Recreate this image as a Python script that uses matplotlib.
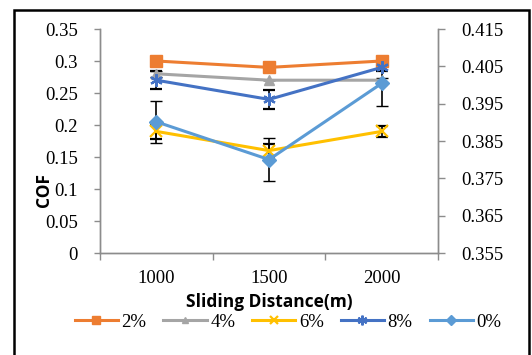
import matplotlib
matplotlib.use("Agg")
import matplotlib.pyplot as plt
from matplotlib.patches import Rectangle
from matplotlib.lines import Line2D

# data
distancias = ["1000", "1500", "2000"]
series_nomes = ["2%", "4%", "6%", "8%", "0%"]
cof_2 = [0.300, 0.290, 0.300]
cof_4 = [0.280, 0.270, 0.270]
cof_6 = [0.190, 0.160, 0.190]
cof_8 = [0.270, 0.240, 0.290]
cof_0 = [0.205, 0.146, 0.265]
err_2 = [0.0, 0.0, 0.0]
err_4 = [0.005, 0.0, 0.004]
err_6 = [0.012, 0.011, 0.009]
err_8 = [0.014, 0.015, 0.006]
err_0 = [0.033, 0.033, 0.035]
y_esq_ticks = [0, 0.05, 0.1, 0.15, 0.2, 0.25, 0.3, 0.35]
y_esq_labels = ["0", "0.05", "0.1", "0.15", "0.2", "0.25", "0.3", "0.35"]
y_dir_ticks = [0.355, 0.365, 0.375, 0.385, 0.395, 0.405, 0.415]
y_dir_labels = ["0.355", "0.365", "0.375", "0.385", "0.395", "0.405", "0.415"]

cores = ["#ED7D31", "#A5A5A5", "#FFC000", "#4472C4", "#5B9BD5"]
marcadores = ["s", "^", "x", (6, 2, 0), "D"]
tamanhos = [8, 7, 8, 9, 7]

serif = "Liberation Serif"
cinza = "#8C8C8C"
fs = 13.5

fig = plt.figure(figsize=(5.32, 3.55), dpi=100)
ax = fig.add_axes([100/532, 1-253/355, 338/532, 224/355])
ax2 = ax.twinx()

x = list(range(len(distancias)))
valores = [cof_2, cof_4, cof_6, cof_8, cof_0]
erros = [err_2, err_4, err_6, err_8, err_0]

handles = []
for nome, ys, es, c, m, s in zip(series_nomes, valores, erros, cores, marcadores, tamanhos):
    mew = 1.6 if (m == "x" or isinstance(m, tuple)) else 1
    ax.errorbar(x, ys, yerr=es, color=c, marker=m, markersize=s, linewidth=2.2,
                ecolor="black", elinewidth=1.2, capsize=4, capthick=1.2,
                markeredgewidth=mew, zorder=3)
    handles.append(Line2D([], [], color=c, marker=m, markersize=s - 2, linewidth=2.2,
                          markeredgewidth=mew, label=nome))

ax.set_xlim(-0.5, 2.5)
ax.set_ylim(0, 0.35)
ax.set_yticks(y_esq_ticks)
ax.set_yticklabels(y_esq_labels, fontfamily=serif, fontsize=fs)
ax.set_xticks(x)
ax.set_xticklabels(distancias, fontfamily=serif, fontsize=fs)
ax.set_xticks([-0.5, 0.5, 1.5, 2.5], minor=True)
ax.tick_params(axis="x", which="major", length=0, pad=12)
ax.tick_params(axis="x", which="minor", length=5, color=cinza, width=1)
ax.tick_params(axis="y", length=4, color=cinza, width=1, pad=12)

ax2.set_ylim(0.355, 0.415)
ax2.set_yticks(y_dir_ticks)
ax2.set_yticklabels(y_dir_labels, fontfamily=serif, fontsize=fs)
ax2.tick_params(axis="y", length=5, color=cinza, width=1, pad=12)

for a in (ax, ax2):
    a.spines["top"].set_visible(False)
    for lado in ("left", "right", "bottom"):
        a.spines[lado].set_color(cinza)
        a.spines[lado].set_linewidth(1)

ax.set_ylabel("COF", fontfamily="Open Sans", fontweight="bold", fontsize=12.5)
ax.yaxis.set_label_coords(-0.14, 0.28)
ax.set_xlabel("Sliding Distance(m)", fontfamily="Open Sans", fontweight="bold", fontsize=12.5)
ax.xaxis.set_label_coords(0.5, -0.18)

fig.legend(handles=handles, loc="center", bbox_to_anchor=(288/532, 1-322/355), ncol=5, frameon=False,
           prop={"family": serif, "size": fs}, handlelength=2.3,
           columnspacing=0.9, handletextpad=0.2, borderpad=0.1)

# moldura preta em volta do gráfico
fig.patches.append(Rectangle((14/532, -0.05), (529-14)/532, 1.05-10/355, transform=fig.transFigure,
                             fill=False, edgecolor="black", linewidth=1.8, clip_on=False))

fig.savefig("out.png", dpi=100)
